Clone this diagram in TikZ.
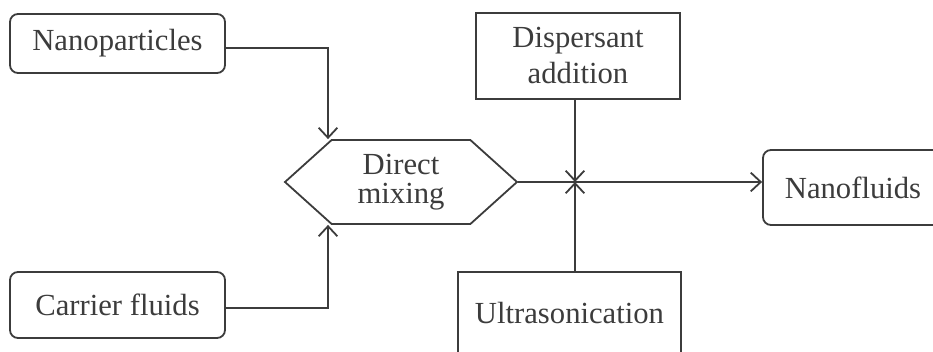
\documentclass[tikz,border=0pt]{standalone}
\usepackage{fontspec}
\setmainfont{Liberation Serif}
\usepackage{tikz}
\usetikzlibrary{arrows.meta,shapes.symbols,positioning,calc}
\definecolor{inkgray}{HTML}{3C3C3C}
\tikzstyle{roundbox}=[rectangle, draw=inkgray, rounded corners=6pt, line width=1.35pt, text=inkgray, font=\fontsize{23}{27}\selectfont]
\tikzstyle{sqbox}=[rectangle, draw=inkgray, line width=1.35pt, text=inkgray, align=center, font=\fontsize{23}{27}\selectfont]
\tikzstyle{hexbox}=[signal, signal to=west and east, signal pointer angle=84, draw=inkgray, line width=1.35pt, text=inkgray, align=center, font=\fontsize{23}{21.5}\selectfont]
\tikzstyle{flowarrow}=[->, >={Straight Barb[length=7.5pt,width=14pt]}, draw=inkgray, line width=1.35pt]

\begin{document}
\begin{tikzpicture}[x=0.75pt,y=-0.75pt]
    \clip (0,0) rectangle (933,352);
    \useasboundingbox (0,0) rectangle (933,352);

    % boxes
    \node[roundbox, minimum width=161.25pt, minimum height=44.25pt] (nano) at (117.5,43.5) {Nanoparticles};
    \node[roundbox, minimum width=161.25pt, minimum height=49.5pt] (carrier) at (117.5,305) {Carrier fluids};
    \node[hexbox, minimum width=174pt, minimum height=63pt] (mix) at (401,182) {Direct\\mixing};
    \node[sqbox, minimum width=153pt, minimum height=64.5pt] (disp) at (578,56) {Dispersant\\addition};
    \node[sqbox, minimum width=167.25pt, minimum height=61.5pt] (ultra) at (569.5,313) {Ultrasonication};
    \node[roundbox, minimum width=135pt, minimum height=56.25pt] (fluids) at (853,187.5) {Nanofluids};
    \coordinate (jn) at (575,182);

    % connectors
    \draw[flowarrow] ([yshift=-3.4pt]nano.east) -| ([xshift=-54.75pt]mix.north);
    \draw[flowarrow] ([yshift=-2.25pt]carrier.east) -| ([xshift=-54.75pt]mix.south);
    \draw[flowarrow] (mix.east) -- (mix.east -| fluids.west);
    \draw[flowarrow] (disp.south -| jn) -- (jn);
    \draw[flowarrow] (ultra.north -| jn) -- (jn);
\end{tikzpicture}
\end{document}
